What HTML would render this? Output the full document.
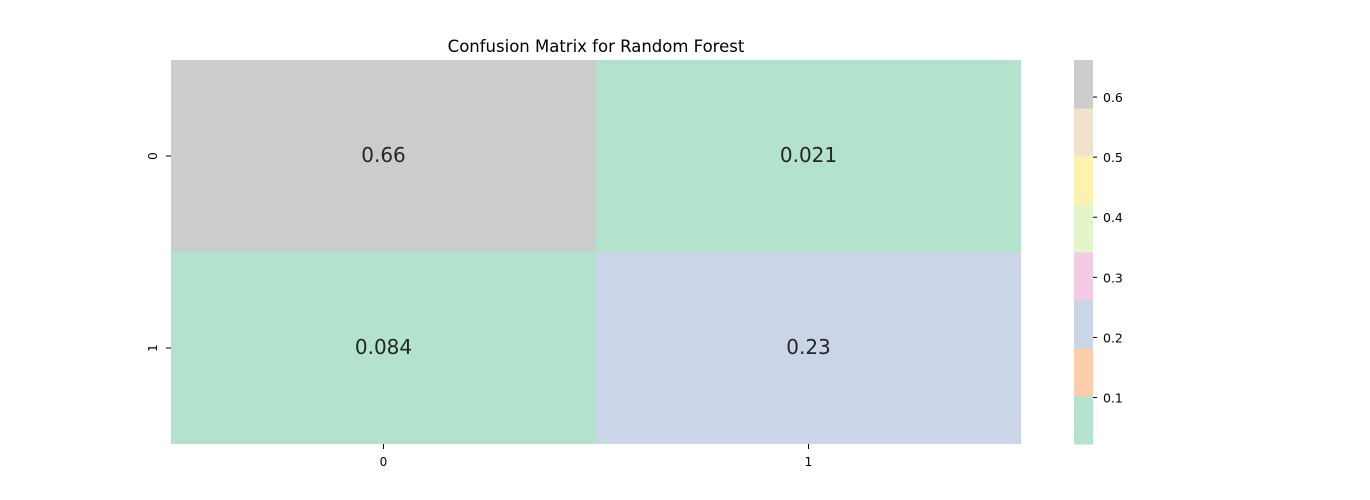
<!DOCTYPE html>
<html><head><meta charset="utf-8"><style>body{margin:0;background:#fff}svg{display:block;font-family:"DejaVu Sans","Liberation Sans",sans-serif}</style></head>
<body>
<svg id="c" width="1370" height="500"></svg>
<script>
const rowLabels=["0","1"];
const colLabels=["0","1"];
const values=[[0.66,0.021],[0.084,0.23]];
const cbTicks=[0.1,0.2,0.3,0.4,0.5,0.6];
const palette=["#b3e2cd","#fdcdac","#cbd5e8","#f4cae4","#e6f5c9","#fff2ae","#f1e2cc","#cccccc"];
const svg=document.getElementById('c');const NS="http://www.w3.org/2000/svg";
function mk(t,a,p){const e=document.createElementNS(NS,t);for(const k in a)e.setAttribute(k,a[k]);(p||svg).appendChild(e);return e;}
const X0=171,X1=1021,Y0=60,Y1=444;
const flat=values.flat();const vmin=Math.min(...flat),vmax=Math.max(...flat);
const cw=(X1-X0)/colLabels.length,ch=(Y1-Y0)/rowLabels.length;
function color(v){let i=Math.floor((v-vmin)/(vmax-vmin)*palette.length);return palette[Math.max(0,Math.min(palette.length-1,i))];}
const t=mk('text',{x:596,y:52,'text-anchor':'middle','font-size':16.5,fill:'#000'});t.textContent="Confusion Matrix for Random Forest";


values.forEach((row,r)=>row.forEach((v,c)=>{
 const rc=mk('rect',{x:X0+c*cw,y:Y0+r*ch,width:cw,height:ch,fill:color(v)});
 
 
 const tx=mk('text',{x:X0+(c+0.5)*cw,y:Y0+(r+0.5)*ch+6,'text-anchor':'middle','font-size':20,fill:'#262626'});tx.textContent=String(v);
 
 
}));
colLabels.forEach((l,c)=>{const x=X0+(c+0.5)*cw;mk('line',{x1:x,x2:x,y1:Y1,y2:Y1+5,stroke:'#000'});
 const tx=mk('text',{x:x,y:Y1+22,'text-anchor':'middle','font-size':12});tx.textContent=l;
 
 });
rowLabels.forEach((l,r)=>{const y=Y0+(r+0.5)*ch;mk('line',{x1:X0-5,x2:X0,y1:y,y2:y,stroke:'#000'});
 const tx=mk('text',{x:0,y:0,'text-anchor':'middle','font-size':12,transform:`translate(157,${y}) rotate(-90)`});tx.textContent=l;
 
 });
const CX0=1074,CX1=1093;const cbY=v=>Y1-(v-vmin)/(vmax-vmin)*(Y1-Y0);
palette.forEach((p,i)=>{const a=vmin+i*(vmax-vmin)/palette.length,b=vmin+(i+1)*(vmax-vmin)/palette.length;
 const rc=mk('rect',{x:CX0,y:cbY(b),width:CX1-CX0,height:cbY(a)-cbY(b)+0.5,fill:p});
 
 });
cbTicks.forEach(v=>{const y=cbY(v)+1;mk('line',{x1:CX1,x2:CX1+4,y1:y,y2:y,stroke:'#000'});
 const tx=mk('text',{x:CX1+10,y:y+5,'font-size':12.5});tx.textContent=v.toFixed(1);
 
 });
</script>
</body></html>
